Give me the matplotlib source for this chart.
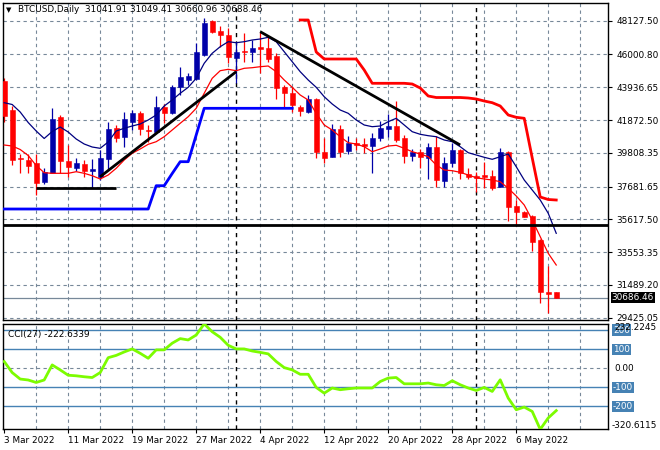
import numpy as np
import pandas as pd
import matplotlib
matplotlib.use('Agg')
import matplotlib.pyplot as plt
import matplotlib.transforms as mtransforms

plt.rcParams['font.family'] = ['DejaVu Sans']

# daily BTCUSD bars, 3 Mar .. 11 May 2022
dates = pd.date_range('2022-03-03', periods=70, freq='D')

opens = [44330, 42504, 39501, 39356, 39148, 37989, 38556, 42082, 39293, 38833,
         39104, 38682, 38304, 39400, 41352, 40785, 41768, 42296, 41245, 41138,
         42674, 42296, 43934, 44393, 44456, 45968, 48127, 47479, 47227, 45760,
         46220, 46175, 46452, 46390, 45905, 43934, 43556, 42712, 42397, 43197,
         39841, 39564, 41308, 39941, 40407, 40363, 40256, 40760, 41327, 41497,
         40722, 39627, 39841, 39501, 40193, 38052, 39148, 39986, 38474, 38348,
         38411, 38348, 37674, 39841, 36459, 36081, 35830, 34318, 31044, 31041.91]
highs = [44519, 42756, 39734, 39734, 39734, 38833, 42611, 42190, 40300, 39463,
         39356, 39400, 39986, 41768, 41560, 42397, 42504, 42441, 41560, 43386,
         42882, 44079, 45231, 44853, 46742, 48279, 48172, 47794, 47649, 46805,
         47334, 46912, 47435, 47120, 46075, 44079, 43934, 42819, 43449, 43241,
         40722, 41623, 41560, 40867, 40722, 40722, 41075, 41830, 42252, 43090,
         40930, 40048, 40030, 40445, 40867, 39526, 40445, 40048, 38871, 38619,
         39249, 38726, 40130, 39922, 36837, 36163, 35892, 34362, 32681, 31049.41]
lows = [41768, 39041, 38537, 38537, 37152, 37844, 38518, 38518, 38304, 38682,
        38304, 37574, 38096, 38726, 40508, 40155, 41245, 40930, 40508, 41037,
        41667, 42252, 43449, 44079, 44393, 45905, 47334, 46490, 45445, 44223,
        45546, 45546, 44815, 45546, 43197, 42674, 42360, 42126, 42334, 39463,
        39148, 39526, 39564, 39734, 39986, 39778, 38556, 40552, 40823, 40508,
        39186, 39293, 38871, 38159, 37674, 37674, 38934, 38159, 38159, 37360,
        37574, 37467, 37637, 35533, 35219, 35748, 33644, 30332, 29740, 30660.96]
closes = [42126, 39356, 39400, 38997, 37889, 38581, 41919, 39312, 38896, 39148,
          38682, 38770, 39463, 41308, 40722, 41919, 42296, 41308, 41201, 42674,
          42334, 43934, 44563, 44645, 46175, 47964, 47435, 47227, 45823, 46175,
          46175, 46390, 46327, 45716, 43908, 43594, 42819, 42460, 43197, 39878,
          39501, 41308, 39878, 40445, 40300, 40256, 40722, 41390, 41497, 40615,
          39627, 39841, 39526, 40193, 38096, 39148, 39986, 38556, 38304, 38241,
          38304, 37611, 39841, 36415, 36100, 35785, 34211, 31063, 30937, 30688.46]

ma_fast = [40300, 40237, 40017, 39639, 39009, 38556, 38518, 38518, 38518, 38619,
           38518, 38367, 38159, 38411, 38833, 39356, 39778, 40048, 40344, 40508,
           40823, 41245, 41667, 42082, 42611, 43556, 44500, 44979, 45067, 44979,
           45130, 45168, 45231, 45275, 44916, 44393, 43934, 43449, 43134, 42296,
           41560, 41245, 40823, 40445, 40363, 40193, 39878, 40048, 40237, 40281,
           40092, 39878, 39734, 39564, 39041, 38726, 38682, 38581, 38411, 38241,
           38159, 38096, 37989, 37574, 37089, 36522, 35578, 34526, 33481, 32744]
ma_slow = [42964, 42851, 42378, 41717, 41182, 40710, 41150, 41434, 41119, 40678,
           40363, 40174, 40092, 40489, 41182, 41352, 41497, 41623, 41875, 42190,
           42756, 43134, 43556, 43934, 44500, 45445, 46075, 46490, 46805, 46742,
           46805, 46912, 46975, 47082, 46805, 46175, 45546, 44916, 44393, 43934,
           43342, 42882, 42504, 42296, 41875, 41560, 41453, 41497, 41768, 41982,
           41560, 41138, 40974, 40886, 40823, 40615, 40508, 40193, 39816, 39671,
           39526, 39400, 39564, 39734, 38934, 38096, 37467, 36837, 36000, 34740]

# trailing channel lines (blue: bars 0-36, red: bars 37-69)
lower_band = [36270] * 19 + [37737, 37737, 38506, 39249, 39249, 40930] + [42611] * 12
upper_band = [48172, 48172, 46157, 45716, 45716, 45716, 45716, 45716, 45023, 44186,
              44186, 44186, 44186, 44186, 44141, 43890, 43386, 43291, 43291, 43291,
              43291, 43260, 43197, 43071, 42964, 42756, 42190, 42044, 41982, 39482,
              37026, 36869, 36837]

cci = [35, -23, -57, -62, -75, -62, 17, -9, -37, -40,
       -45, -49, -23, 55, 67, 85, 101, 78, 52, 96,
       96, 131, 155, 148, 174, 232.2, 191, 162, 120, 101,
       101, 90, 83, 75, 35, 3, -9, -32, -32, -101,
       -131, -104, -113, -108, -104, -104, -104, -70, -52, -49,
       -82, -82, -82, -78, -87, -91, -66, -87, -104, -117,
       -101, -122, -61, -157, -218, -204, -227, -320.6, -261, -222.6]
cci_last = -222.6339

# drawn objects: (bar from, bar to), (price from, price to)
support_line = ([4, 14], [37611, 37611])
rising_line = ([12, 29], [38304, 44916])
falling_line = ([32, 57], [47435, 40300])
level_line = 35263

price_ticks = [48127.50, 46000.80, 43936.65, 41872.50, 39808.35,
               37681.65, 35617.50, 33553.35, 31489.20, 29425.05]
bid = 30686.46

W, H = 660, 450
def box(x0, y0, x1, y1):
    return [x0 / W, 1 - y1 / H, (x1 - x0) / W, (y1 - y0) / H]

fig = plt.figure(figsize=(6.6, 4.5), dpi=100)
ax = fig.add_axes(box(2.5, 3, 608, 320))
axc = fig.add_axes(box(2.5, 323.9, 608, 429.3))

grid_kw = dict(color='#778899', lw=0.8, ls=(0, (3, 3)), zorder=0)
fs = 6.4
x = np.arange(len(closes))
o = np.array(opens); c = np.array(closes)
bull, bear = '#0000a8', '#ff0000'
col = np.where(c > o, bull, bear)

for a in (ax, axc):
    a.set_xlim(-0.21, 75.47)
    for gx in range(4, 76, 4):
        a.axvline(gx, **grid_kw)
    for i, d in enumerate(dates):
        if d.day == 1:
            a.axvline(i, color='black', lw=1, ls=(0, (3, 3)), zorder=1)
    for s in a.spines.values():
        s.set_color('black')
        s.set_linewidth(1)

# main panel
ax.set_ylim(29281, 49242)
for p in price_ticks:
    ax.axhline(p, **grid_kw)
ax.axhline(bid, color='#778899', lw=0.9, zorder=1)

ax.vlines(x, lows, highs, colors=col, lw=0.9, zorder=2)
ax.bar(x, np.maximum(np.abs(c - o), 60), 0.58, bottom=np.minimum(o, c),
       color=col, edgecolor=col, linewidth=0.4, zorder=3)

ax.plot(x, ma_fast, color='red', lw=0.9, zorder=4)
ax.plot(x, ma_slow, color='#000080', lw=0.9, zorder=4)
ax.plot(x[:len(lower_band)], lower_band, color='#0000ff', lw=2, zorder=4)
ax.plot(x[len(x) - len(upper_band):], upper_band, color='red', lw=2, zorder=4)

for xs, ys in (support_line, rising_line, falling_line):
    ax.plot(xs, ys, color='black', lw=2, zorder=5, solid_capstyle='butt')
ax.axhline(level_line, color='black', lw=2, zorder=5)

ax.yaxis.tick_right()
ax.set_yticks(price_ticks)
ax.set_yticklabels([f'{p:.2f}' for p in price_ticks], fontsize=fs)
ax.tick_params(axis='y', length=3, pad=3, width=0.8)
ax.set_xticks([])

tr = mtransforms.blended_transform_factory(ax.transAxes, ax.transData)
ax.text(1.006, bid, f'{bid:.2f}', transform=tr, va='center', ha='left',
        color='white', fontsize=fs,
        bbox=dict(boxstyle='square,pad=0.12', fc='black', ec='none'), zorder=10)

fig.text(6 / W, 1 - 10 / H, '\u25bc', fontsize=5, va='center', ha='left')
fig.text(18 / W, 1 - 10 / H,
         f'BTCUSD,Daily  {opens[-1]:.2f} {highs[-1]:.2f} {lows[-1]:.2f} {closes[-1]:.2f}',
         fontsize=fs, va='center', ha='left')

# CCI panel
axc.set_ylim(-320.6, 232.2)
axc.axhline(0, **grid_kw)
for lev in (200, 100, -100, -200):
    axc.axhline(lev, color='#4682b4', lw=1, zorder=1)
axc.plot(x, cci, color='#7cfc00', lw=2, zorder=4)

trc = mtransforms.blended_transform_factory(axc.transAxes, axc.transData)
for lev in (200, 100, -100, -200):
    axc.text(1.008, lev, f'{lev}', transform=trc, va='center', ha='left',
             color='white', fontsize=fs,
             bbox=dict(boxstyle='square,pad=0.12', fc='#4682b4', ec='none'))
axc.text(1.010, 0, '0.00', transform=trc, va='center', ha='left', fontsize=fs)
axc.text(1.010, 215, '232.2245', transform=trc, va='center', ha='left', fontsize=fs)
axc.text(1.006, -300, '-320.6115', transform=trc, va='center', ha='left', fontsize=fs)
axc.set_yticks([])
fig.text(8 / W, 1 - 334 / H, f'CCI(27) {cci_last:.4f}',
         fontsize=fs, va='center', ha='left')

lab_idx = list(range(0, 70, 8))
axc.set_xticks(lab_idx)
axc.set_xticklabels([f'{dates[i].day} {dates[i]:%b %Y}' for i in lab_idx],
                    fontsize=fs, ha='left')
axc.tick_params(axis='x', length=3, pad=1.5, width=0.8)

fig.savefig('out.png', dpi=100, facecolor='white')
